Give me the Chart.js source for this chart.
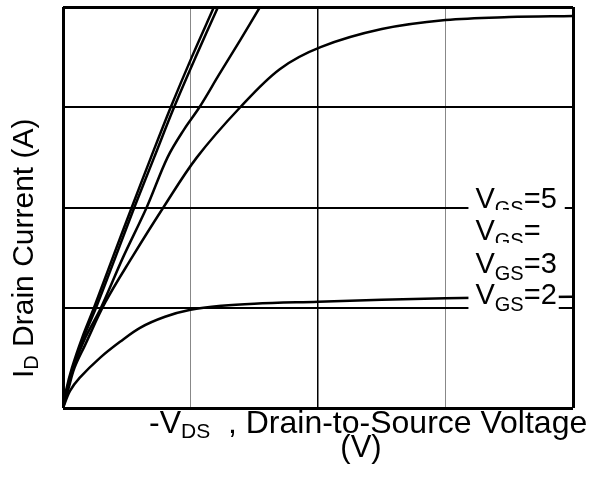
<!DOCTYPE html>
<html lang="en">
<head>
<meta charset="UTF-8">
<title>Drain Current vs Drain-to-Source Voltage</title>
<script src="https://cdn.jsdelivr.net/npm/chart.js"></script>
<style>
  body { margin: 0; background: #fff; }
  #wrap { width: 590px; height: 493px; }
</style>
</head>
<body>
<div id="wrap"><canvas id="ivChart" width="590" height="493"></canvas></div>
<script>
// -VDS (V) and ID (A) points
const vdsA = [0, 0.025, 0.07, 0.15, 0.243, 0.39, 0.539, 0.69, 0.845, 1.01, 1.184];
const idA  = [0, 0.18, 0.4, 0.7, 1.0, 1.5, 2.0, 2.5, 3.0, 3.5, 4.0];
const vdsB = [0, 0.03, 0.076, 0.16, 0.259, 0.41, 0.559, 0.715, 0.871, 1.04, 1.216];
const idB  = [0, 0.18, 0.4, 0.7, 1.0, 1.5, 2.0, 2.5, 3.0, 3.5, 4.0];
const vds4 = [0, 0.033, 0.082, 0.175, 0.298, 0.47, 0.656, 0.82, 0.95, 1.07, 1.226, 1.39, 1.545];
const id4  = [0, 0.18, 0.4, 0.7, 1.0, 1.5, 2.0, 2.5, 2.78, 3.0, 3.33, 3.67, 4.0];
const vds3 = [0, 0.04, 0.09, 0.17, 0.33, 0.54, 0.787, 1.05, 1.39, 1.7, 2.02, 2.5, 3.0, 3.5, 4.0];
const id3  = [0, 0.18, 0.4, 0.62, 1.05, 1.5, 2.0, 2.5, 3.0, 3.38, 3.6, 3.78, 3.87, 3.9, 3.91];
const vds2 = [0, 0.055, 0.13, 0.29, 0.447, 0.604, 0.8, 1.0, 1.245, 1.5, 2.0, 2.5, 3.0, 3.5, 4.0];
const id2  = [0, 0.17, 0.3, 0.5, 0.66, 0.8, 0.91, 0.98, 1.02, 1.04, 1.06, 1.08, 1.095, 1.105, 1.11];

// curve labels (VGS value after the "=" sign) and the ID level of their baseline
const vgsLabels = ['5', '', '3', '2'];
const vgsLabelLevels = [2.0, 1.676, 1.347, 1.037];

const FONT = 'Arial, "Liberation Sans", sans-serif';

function pts(xs, ys) {
    return xs.map((x, i) => ({ x: x, y: ys[i] }));
}

function curve(xs, ys) {
    return {
        data: pts(xs, ys),
        borderColor: '#000',
        borderWidth: 2.5,
        pointRadius: 0,
        fill: false,
        tension: 0.35
    };
}

// draw a run of text pieces [text, size, dy] one after another
function drawParts(ctx, parts, x, y) {
    let cx = x;
    parts.forEach(([t, size, dy]) => {
        ctx.font = size + 'px ' + FONT;
        ctx.fillText(t, cx, y + dy);
        cx += ctx.measureText(t).width;
    });
    return cx - x;
}

function partsWidth(ctx, parts) {
    let w = 0;
    parts.forEach(([t, size]) => {
        ctx.font = size + 'px ' + FONT;
        w += ctx.measureText(t).width;
    });
    return w;
}

const labelsPlugin = {
    id: 'ivLabels',
    afterDatasetsDraw(chart) {
        const ctx = chart.ctx;
        const xs = chart.scales.x, ys = chart.scales.y;
        const boxLeft = xs.getPixelForValue(3.18);
        const textLeft = xs.getPixelForValue(3.235);
        const padRight = [8, 4, 4, 2];
        ctx.save();
        ctx.textBaseline = 'alphabetic';
        // order matters: later boxes hide the subscripts of earlier ones
        [0, 1, 3, 2].forEach(i => {
            const base = ys.getPixelForValue(vgsLabelLevels[i]);
            const parts = [['V', 29, 0], ['GS', 20, 7], ['=' + vgsLabels[i], 29, 0]];
            const w = partsWidth(ctx, parts);
            const top = base - 30;
            const bottom = base + (i === 3 ? 7 : 2);
            ctx.fillStyle = '#fff';
            ctx.fillRect(boxLeft, top, textLeft - boxLeft + w + padRight[i], bottom - top);
            ctx.fillStyle = '#000';
            drawParts(ctx, parts, textLeft, base);
        });
        ctx.restore();
    },
    afterDraw(chart) {
        const ctx = chart.ctx;
        ctx.save();
        ctx.fillStyle = '#000';
        // x axis title, two lines
        drawParts(ctx, [['-V', 32, 0], ['DS', 21, 5], ['  , Drain-to-Source Voltage', 32, 0]], 149, 433);
        const l2 = [['(V)', 31, 0]];
        drawParts(ctx, l2, 361 - partsWidth(ctx, l2) / 2, 457);
        // y axis title, rotated
        ctx.translate(33, 378);
        ctx.rotate(-Math.PI / 2);
        drawParts(ctx, [['I', 30, 0], ['D', 20, 5], [' Drain Current (A)', 30, 0]], 0, 0);
        ctx.restore();
    }
};

new Chart(document.getElementById('ivChart'), {
    type: 'line',
    data: {
        datasets: [
            curve(vdsA, idA),
            curve(vdsB, idB),
            curve(vds4, id4),
            curve(vds3, id3),
            curve(vds2, id2)
        ]
    },
    options: {
        responsive: false,
        animation: false,
        layout: { padding: { left: 63, right: 17, top: 7, bottom: 85 } },
        plugins: { legend: { display: false }, tooltip: { enabled: false } },
        scales: {
            x: {
                type: 'linear', min: 0, max: 4,
                ticks: { display: false, stepSize: 1 },
                border: { display: false },
                grid: {
                    drawTicks: false,
                    color: c => (c.tick && (c.tick.value === 1 || c.tick.value === 3)) ? '#888' : '#000',
                    lineWidth: c => {
                        const v = c.tick ? c.tick.value : 0;
                        if (v === 0 || v === 4) return 3;
                        return v === 2 ? 1.5 : 1;
                    }
                }
            },
            y: {
                type: 'linear', min: 0, max: 4,
                ticks: { display: false, stepSize: 1 },
                border: { display: false },
                grid: {
                    drawTicks: false,
                    color: '#000',
                    lineWidth: c => {
                        const v = c.tick ? c.tick.value : 0;
                        return (v === 0 || v === 4) ? 3 : 2;
                    }
                }
            }
        }
    },
    plugins: [labelsPlugin]
});
</script>
</body>
</html>
